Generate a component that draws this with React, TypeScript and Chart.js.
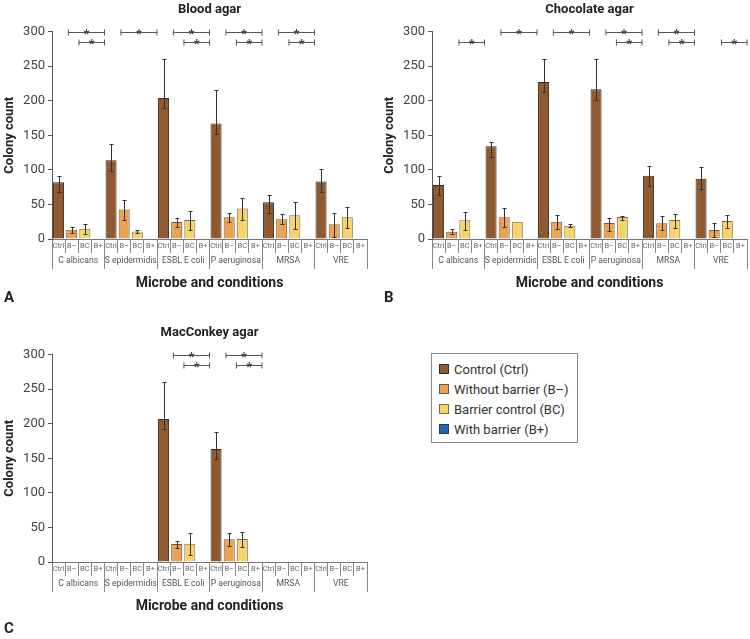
import React, { useEffect, useRef } from 'react';
import { Chart, registerables } from 'chart.js';

Chart.register(...registerables);

const FONT = 'Roboto, "Noto Sans", "DejaVu Sans", sans-serif';

// ---------- shared categories ----------
const GROUPS = ['C albicans', 'S epidermidis', 'ESBL E coli', 'P aeruginosa', 'MRSA', 'VRE'];
const CONDITIONS = ['Ctrl', 'B–', 'BC', 'B+'];
const CONDITION_NAMES = ['Control (Ctrl)', 'Without barrier (B–)', 'Barrier control (BC)', 'With barrier (B+)'];
const COLORS = ['#8f5a2f', '#eca24f', '#f8d36b', '#2464ad'];
const BORDERS = ['#3b2818', '#6b5a48', '#7a6a50', '#1d3f6e'];
const Y_MAX = 300;
const Y_STEP = 50;
const X_TITLE = 'Microbe and conditions';
const Y_TITLE = 'Colony count';

// ---------- Blood agar ----------
const bloodCtrl = [82, 114, 204, 167, 53, 83];
const bloodCtrlHi = [91, 137, 261, 215, 64, 101];
const bloodCtrlLo = [68, 99, 189, 152, 38, 68];
const bloodBminus = [13.5, 42.5, 24.7, 31.4, 28.5, 21.3];
const bloodBminusHi = [17.4, 56, 30.5, 37, 36, 37.7];
const bloodBminusLo = [8.7, 27, 18, 25, 21, 3];
const bloodBC = [15, 11, 27.6, 44, 34.3, 31.4];
const bloodBCHi = [21.8, 13, 41, 60, 54, 46.4];
const bloodBCLo = [7.7, 9, 13.5, 27, 14, 16];
const bloodBplus = [0, 0, 0, 0, 0, 0];
// significance brackets per group: [upper bracket, lower bracket]
const bloodSig = [[true, true], [true, false], [true, true], [true, true], [true, true], [false, false]];

// ---------- Chocolate agar ----------
const chocCtrl = [78, 134, 227, 216.6, 91.4, 87];
const chocCtrlHi = [91, 139.7, 261, 261, 105, 104];
const chocCtrlLo = [63, 118.5, 212.8, 201, 77, 72];
const chocBminus = [10.6, 31.4, 25, 23.2, 22.7, 13];
const chocBminusHi = [14.5, 45, 35.3, 30, 32.9, 22.7];
const chocBminusLo = [6.8, 17, 14.5, 12, 13, 2.9];
const chocBC = [27, 25.1, 19.3, 31.9, 27.6, 26];
const chocBCHi = [39.7, null, 21.8, 33.8, 35.8, 34.8];
const chocBCLo = [12.6, null, 17, 27, 16.4, 16.4];
const chocBplus = [0, 0, 0, 0, 0, 0];
const chocSig = [[false, true], [true, false], [true, false], [true, true], [true, true], [false, true]];

// ---------- MacConkey agar ----------
const macCtrl = [null, null, 207, 163.5, null, null];
const macCtrlHi = [null, null, 260.5, 187.6, null, null];
const macCtrlLo = [null, null, 192.5, 149, null, null];
const macBminus = [null, null, 26, 32.8, null, null];
const macBminusHi = [null, null, 29.9, 41.5, null, null];
const macBminusLo = [null, null, 20.3, 23.6, null, null];
const macBC = [null, null, 26.5, 33.3, null, null];
const macBCHi = [null, null, 42, 43.9, null, null];
const macBCLo = [null, null, 9.6, 21.7, null, null];
const macBplus = [null, null, 0, 0, null, null];
const macSig = [[false, false], [false, false], [true, true], [true, true], [false, false], [false, false]];

const NO_ERR = [null, null, null, null, null, null];

type Num = number | null;

// spread 6 group values into the 24 sub-category slots for a given condition
function spread(values: Num[], slot: number): Num[] {
  const out: Num[] = [];
  GROUPS.forEach((_, g) => {
    CONDITIONS.forEach((__, c) => out.push(c === slot ? values[g] : null));
  });
  return out;
}

const SUB_LABELS: string[] = [];
GROUPS.forEach(() => CONDITIONS.forEach((c) => SUB_LABELS.push(c)));

const errorBarPlugin = {
  id: 'errorBars',
  afterDatasetsDraw(chart: any) {
    const ctx = chart.ctx;
    const y = chart.scales.y;
    chart.data.datasets.forEach((ds: any, di: number) => {
      const meta = chart.getDatasetMeta(di);
      meta.data.forEach((bar: any, i: number) => {
        const hi = ds.errHi ? ds.errHi[i] : null;
        const lo = ds.errLo ? ds.errLo[i] : null;
        if (hi == null || lo == null || ds.data[i] == null) return;
        const x = Math.round(bar.x) + 0.5;
        const yh = Math.round(y.getPixelForValue(hi)) + 0.5;
        const yl = Math.round(y.getPixelForValue(lo)) + 0.5;
        ctx.save();
        ctx.strokeStyle = '#333';
        ctx.lineWidth = 1;
        ctx.beginPath();
        ctx.moveTo(x, yh);
        ctx.lineTo(x, yl);
        ctx.moveTo(x - 2, yh);
        ctx.lineTo(x + 2, yh);
        ctx.moveTo(x - 2, yl);
        ctx.lineTo(x + 2, yl);
        ctx.stroke();
        ctx.restore();
      });
    });
  },
};

function bracketPlugin(sig: boolean[][]) {
  return {
    id: 'brackets',
    afterDraw(chart: any) {
      const { ctx } = chart;
      const x = chart.scales.x;
      const y = chart.scales.y;
      sig.forEach((s, g) => {
        const levels: [boolean, number, number][] = [
          [s[0], 0.75, 300],
          [s[1], 1.55, 285],
        ];
        levels.forEach(([on, start, val]) => {
          if (!on) return;
          const x1 = x.getPixelForValue(g * 4 + start);
          const x2 = x.getPixelForValue(g * 4 + 3.5);
          const yy = Math.round(y.getPixelForValue(val)) + 0.5;
          ctx.save();
          ctx.strokeStyle = '#555';
          ctx.lineWidth = 1;
          ctx.beginPath();
          ctx.moveTo(x1, yy);
          ctx.lineTo(x2, yy);
          ctx.moveTo(x1, yy - 3);
          ctx.lineTo(x1, yy + 3);
          ctx.moveTo(x2, yy - 3);
          ctx.lineTo(x2, yy + 3);
          ctx.stroke();
          ctx.fillStyle = '#444';
          ctx.font = `bold 13px ${FONT}`;
          ctx.textAlign = 'center';
          ctx.textBaseline = 'alphabetic';
          ctx.fillText('*', (x1 + x2) / 2, yy + 5);
          ctx.restore();
        });
      });
    },
  };
}

interface PanelProps {
  title: string;
  left: number;
  top: number;
  series: Num[][];
  his: Num[][];
  los: Num[][];
  sig: boolean[][];
}

function Panel({ title, left, top, series, his, los, sig }: PanelProps) {
  const ref = useRef<HTMLCanvasElement>(null);
  useEffect(() => {
    if (!ref.current) return;
    const chart = new Chart(ref.current, {
      type: 'bar',
      data: {
        labels: SUB_LABELS,
        datasets: CONDITIONS.map((c, k) => ({
          label: CONDITION_NAMES[k],
          data: spread(series[k], k),
          errHi: spread(his[k], k),
          errLo: spread(los[k], k),
          backgroundColor: COLORS[k],
          borderColor: BORDERS[k],
          borderWidth: 1,
          grouped: false,
          barPercentage: 0.84,
          categoryPercentage: 1,
        })) as any,
      },
      options: {
        responsive: false,
        animation: false,
        layout: { padding: { left: 0, right: 8, top: 0, bottom: 0 } },
        plugins: {
          legend: { display: false },
          tooltip: { enabled: false },
          title: {
            display: true,
            text: title,
            fullSize: false,
            color: '#222',
            font: { family: FONT, size: 13, weight: 'bold' },
            padding: { top: 2, bottom: 14 },
          },
        },
        scales: {
          x: {
            type: 'category',
            offset: true,
            weight: 0,
            grid: { offset: true, drawOnChartArea: false, tickLength: 14, color: '#888' },
            border: { color: '#777' },
            ticks: {
              autoSkip: false,
              maxRotation: 0,
              minRotation: 0,
              padding: -11,
              color: '#666',
              font: { family: FONT, size: 7.5 },
            },
            afterFit(s: any) {
              s.height = 14;
            },
          },
          x2: {
            type: 'category',
            position: 'bottom',
            labels: GROUPS,
            offset: true,
            weight: 1,
            grid: { offset: true, drawOnChartArea: false, tickLength: 16, color: '#888' },
            border: { display: false },
            ticks: {
              autoSkip: false,
              maxRotation: 0,
              minRotation: 0,
              padding: -13,
              color: '#555',
              font: { family: FONT, size: 8.6 },
            },
            title: {
              display: true,
              text: X_TITLE,
              color: '#222',
              font: { family: FONT, size: 14, weight: 'bold' },
              padding: { top: 8, bottom: 8 },
            },
            afterFit(s: any) {
              s.height = 47;
            },
          },
          y: {
            min: 0,
            max: Y_MAX,
            ticks: {
              stepSize: Y_STEP,
              padding: 3,
              color: '#444',
              font: { family: FONT, size: 13 },
            },
            grid: { drawOnChartArea: false, tickLength: 4, color: '#555' },
            border: { color: '#555' },
            title: {
              display: true,
              text: Y_TITLE,
              color: '#222',
              font: { family: FONT, size: 13, weight: 'bold' },
              padding: { top: 2, bottom: 0 },
            },
            afterFit(s: any) {
              s.width = 52;
            },
          },
        } as any,
      },
      plugins: [errorBarPlugin, bracketPlugin(sig)],
    });
    return () => chart.destroy();
  }, []);
  return (
    <div style={{ position: 'absolute', left, top, width: 375, height: 300 }}>
      <canvas ref={ref} width={375} height={300} style={{ display: 'block' }} />
    </div>
  );
}

function Letter({ text, left, top }: { text: string; left: number; top: number }) {
  return (
    <div
      style={{
        position: 'absolute',
        left,
        top,
        fontFamily: FONT,
        fontWeight: 'bold',
        fontSize: 15,
        lineHeight: '16px',
        color: '#222',
      }}
    >
      {text}
    </div>
  );
}

export default function App() {
  return (
    <div style={{ position: 'absolute', left: 0, top: 0, width: 750, height: 639, background: '#fff', overflow: 'hidden' }}>
      <Panel
        title="Blood agar"
        left={0}
        top={0}
        series={[bloodCtrl, bloodBminus, bloodBC, bloodBplus]}
        his={[bloodCtrlHi, bloodBminusHi, bloodBCHi, NO_ERR]}
        los={[bloodCtrlLo, bloodBminusLo, bloodBCLo, NO_ERR]}
        sig={bloodSig}
      />
      <Panel
        title="Chocolate agar"
        left={380}
        top={0}
        series={[chocCtrl, chocBminus, chocBC, chocBplus]}
        his={[chocCtrlHi, chocBminusHi, chocBCHi, NO_ERR]}
        los={[chocCtrlLo, chocBminusLo, chocBCLo, NO_ERR]}
        sig={chocSig}
      />
      <Panel
        title="MacConkey agar"
        left={0}
        top={323}
        series={[macCtrl, macBminus, macBC, macBplus]}
        his={[macCtrlHi, macBminusHi, macBCHi, NO_ERR]}
        los={[macCtrlLo, macBminusLo, macBCLo, NO_ERR]}
        sig={macSig}
      />
      <Letter text="A" left={4} top={289} />
      <Letter text="B" left={384} top={289} />
      <Letter text="C" left={4} top={620} />
      <div
        style={{
          position: 'absolute',
          left: 431,
          top: 353,
          width: 147,
          height: 90,
          border: '1px solid #888',
          boxSizing: 'border-box',
          fontFamily: FONT,
          fontSize: 13,
          color: '#333',
        }}
      >
        {CONDITION_NAMES.map((n, i) => (
          <div
            key={n}
            style={{
              position: 'absolute',
              left: 7,
              top: 8 + i * 20,
              height: 14,
              display: 'flex',
              alignItems: 'center',
              whiteSpace: 'nowrap',
            }}
          >
            <span
              style={{
                display: 'inline-block',
                width: 10,
                height: 10,
                background: COLORS[i],
                border: `1px solid ${BORDERS[i]}`,
                boxSizing: 'border-box',
                marginRight: 5,
              }}
            />
            {n}
          </div>
        ))}
      </div>
    </div>
  );
}
